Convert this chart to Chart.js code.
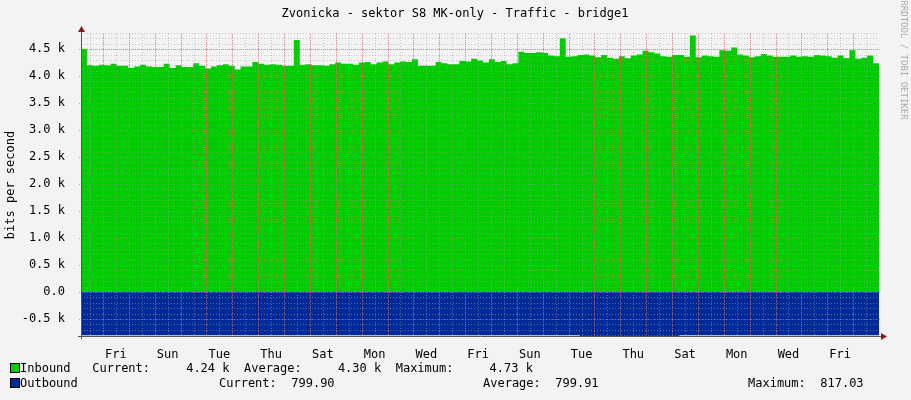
<!DOCTYPE html>
<html>
<head>
<meta charset="utf-8">
<script src="https://cdn.jsdelivr.net/npm/chart.js@4/dist/chart.umd.min.js"></script>
<style>
  html, body { margin: 0; padding: 0; background: #f3f3f3; }
  #wrap { width: 911px; height: 400px; position: relative; }
</style>
</head>
<body>
<div id="wrap"><canvas id="c" width="911" height="400"></canvas></div>
<script>
// values in k bits per second, one sample every SPAN/135 days
const inbound = [
  4.50,4.20,4.19,4.21,4.20,4.23,4.19,4.19,4.15,4.18,4.21,4.18,4.17,4.17,4.23,4.15,4.20,4.17,4.17,4.24,4.19,4.14,4.18,4.20,4.22,
  4.19,4.12,4.18,4.18,4.26,4.23,4.21,4.22,4.21,4.19,4.19,4.67,4.21,4.22,4.20,4.20,4.19,4.22,4.25,4.23,
  4.23,4.21,4.25,4.26,4.22,4.25,4.27,4.22,4.25,4.27,4.26,4.31,4.19,4.19,4.19,4.26,4.24,
  4.22,4.22,4.28,4.27,4.32,4.29,4.25,4.31,4.26,4.28,4.22,4.24,4.45,4.43,4.43,4.44,4.43,
  4.38,4.37,4.70,4.36,4.37,4.39,4.40,4.38,4.35,4.39,4.34,4.32,4.37,4.33,4.38,4.40,4.47,
  4.44,4.42,4.37,4.36,4.39,4.39,4.36,4.75,4.35,4.38,4.37,4.36,4.48,4.47,4.53,4.40,4.38,
  4.35,4.37,4.41,4.38,4.36,4.36,4.36,4.38,4.36,4.37,4.36,4.39,4.38,4.37,4.34,4.38,4.33,4.48,4.32,4.34,4.38,4.24
];
const outbound = [-0.800, -0.801, -0.800, -0.799, -0.800, -0.817, -0.800, -0.800];
const dayLabels = ['Fri','Sun','Tue','Thu','Sat','Mon','Wed','Fri','Sun','Tue','Thu','Sat','Mon','Wed','Fri'];
const yTicks = [-0.5, 0, 0.5, 1, 1.5, 2, 2.5, 3, 3.5, 4, 4.5];

const SPAN = 30.85;       // days shown
const FIRST_DAY = 0.85;   // first midnight
const step = SPAN / inbound.length;

const inPts = inbound.map((v, i) => ({x: i * step, y: v}));
inPts.push({x: SPAN, y: inbound[inbound.length - 1]});
const oStep = SPAN / outbound.length;
const outPts = outbound.map((v, i) => ({x: i * oStep, y: v}));
outPts.push({x: SPAN, y: outbound[outbound.length - 1]});

const MONO = '"DejaVu Sans Mono", monospace';

const rrdPlugin = {
  id: 'rrd',
  afterDatasetsDraw(chart) {
    const {ctx, chartArea: a, scales: {x, y}} = chart;
    ctx.save();
    ctx.lineWidth = 1;
    // minor grid
    ctx.setLineDash([1, 2]);
    ctx.strokeStyle = 'rgba(160,160,160,0.55)';
    for (let v = -0.8; v <= 4.8; v += 0.1) {
      const py = Math.round(y.getPixelForValue(v)) + 0.5;
      ctx.beginPath(); ctx.moveTo(a.left, py); ctx.lineTo(a.right, py); ctx.stroke();
    }
    for (let d = FIRST_DAY - 0.5; d < SPAN; d += 0.5) {
      if (d < 0) continue;
      const px = Math.round(x.getPixelForValue(d)) + 0.5;
      ctx.beginPath(); ctx.moveTo(px, a.top); ctx.lineTo(px, a.bottom); ctx.stroke();
    }
    // major grid
    ctx.strokeStyle = 'rgba(230,80,80,0.6)';
    ctx.setLineDash([1, 1]);
    yTicks.forEach(v => {
      const py = Math.round(y.getPixelForValue(v)) + 0.5;
      ctx.beginPath(); ctx.moveTo(a.left - 2, py); ctx.lineTo(a.right + 2, py); ctx.stroke();
    });
    for (let d = FIRST_DAY; d < SPAN; d += 1) {
      const px = Math.round(x.getPixelForValue(d)) + 0.5;
      ctx.beginPath(); ctx.moveTo(px, a.top); ctx.lineTo(px, a.bottom + 2); ctx.stroke();
    }
    ctx.setLineDash([]);
    // axes + arrows
    ctx.strokeStyle = '#555';
    ctx.beginPath();
    ctx.moveTo(a.left + 0.5, a.bottom + 3); ctx.lineTo(a.left + 0.5, a.top - 4);
    ctx.moveTo(a.left - 3, a.bottom + 0.5); ctx.lineTo(a.right + 4, a.bottom + 0.5);
    ctx.stroke();
    ctx.fillStyle = '#8b1a1a';
    ctx.beginPath(); ctx.moveTo(a.left - 3, a.top - 2); ctx.lineTo(a.left + 4, a.top - 2); ctx.lineTo(a.left + 0.5, a.top - 8); ctx.fill();
    ctx.beginPath(); ctx.moveTo(a.right + 2, a.bottom - 3); ctx.lineTo(a.right + 2, a.bottom + 4); ctx.lineTo(a.right + 8, a.bottom + 0.5); ctx.fill();

    // texts
    ctx.fillStyle = '#000';
    ctx.font = '12px ' + MONO;
    ctx.textAlign = 'center';
    ctx.textBaseline = 'middle';
    ctx.fillText('Zvonicka - sektor S8 MK-only - Traffic - bridge1', 455, 14);
    ctx.save();
    ctx.translate(11, 185); ctx.rotate(-Math.PI / 2);
    ctx.fillText('bits per second', 0, 0);
    ctx.restore();
    ctx.save();
    ctx.fillStyle = '#aaa';
    ctx.font = '9px ' + MONO;
    ctx.translate(903, 60); ctx.rotate(Math.PI / 2);
    ctx.fillText('RRDTOOL / TOBI OETIKER', 0, 0);
    ctx.restore();

    // legend
    ctx.textAlign = 'left';
    ctx.fillStyle = '#00cc00'; ctx.fillRect(10, 363, 10, 10);
    ctx.strokeStyle = '#000'; ctx.strokeRect(10.5, 363.5, 9, 9);
    ctx.fillStyle = '#002a97'; ctx.fillRect(10, 378, 10, 10);
    ctx.strokeRect(10.5, 378.5, 9, 9);
    ctx.fillStyle = '#000';
    ctx.fillText('Inbound   Current:     4.24 k  Average:     4.30 k  Maximum:     4.73 k', 20, 369);
    ctx.fillText('Outbound', 20, 384);
    ctx.fillText('Current:  799.90', 219, 384);
    ctx.fillText('Average:  799.91', 483, 384);
    ctx.fillText('Maximum:  817.03', 748, 384);
    ctx.restore();
  }
};

new Chart(document.getElementById('c'), {
  type: 'line',
  data: {
    datasets: [
      {label: 'Inbound', data: inPts, stepped: 'before', fill: 'origin',
       backgroundColor: '#00cc00', borderColor: '#00cc00', borderWidth: 0, pointRadius: 0},
      {label: 'Outbound', data: outPts, stepped: 'before', fill: 'origin',
       backgroundColor: '#002a97', borderColor: '#002a97', borderWidth: 0, pointRadius: 0}
    ]
  },
  plugins: [rrdPlugin],
  options: {
    responsive: false,
    animation: false,
    devicePixelRatio: 1,
    layout: {padding: {left: 0, right: 32, top: 34, bottom: 0}},
    plugins: {legend: {display: false}, tooltip: {enabled: false}},
    scales: {
      x: {
        type: 'linear', min: 0, max: SPAN,
        grid: {display: false}, border: {display: false},
        afterFit: s => { s.height = 64; },
        afterBuildTicks: s => { s.ticks = dayLabels.map((_, i) => ({value: FIRST_DAY + 0.5 + 2 * i})); },
        ticks: {
          autoSkip: false, maxRotation: 0, color: '#000', padding: 4,
          font: {family: MONO, size: 12},
          callback: (v, i) => dayLabels[i]
        }
      },
      y: {
        min: -0.815, max: 4.78,
        grid: {display: false}, border: {display: false},
        afterFit: s => { s.width = 81; },
        afterBuildTicks: s => { s.ticks = yTicks.map(v => ({value: v})); },
        ticks: {
          color: '#000', padding: 8,
          font: {family: MONO, size: 12},
          callback: v => v === 0 ? '0.0' : v.toFixed(1) + ' k'
        }
      }
    }
  }
});
</script>
</body>
</html>
